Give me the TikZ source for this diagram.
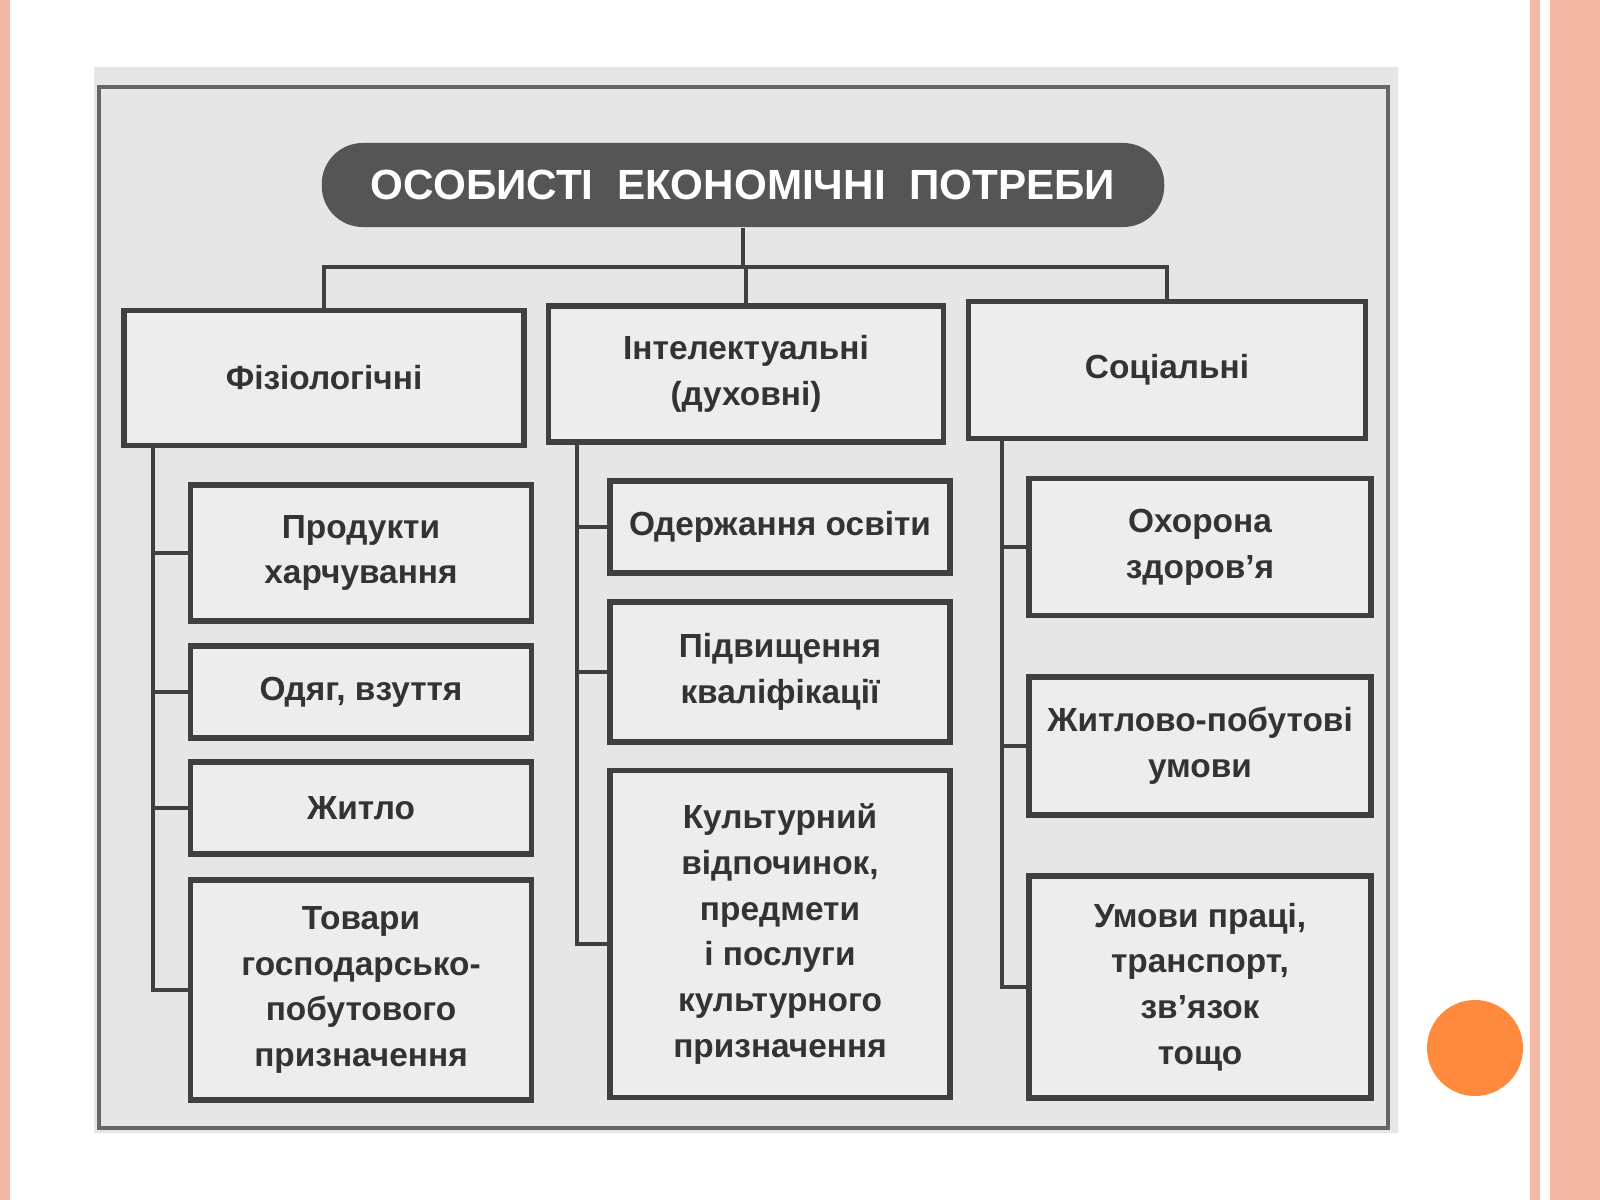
\documentclass[tikz,border=0pt]{standalone}
\usepackage{fontspec}
\setmainfont{Liberation Sans}
\definecolor{slidepink}{HTML}{F4B9A4}
\definecolor{photogray}{HTML}{E6E6E6}
\definecolor{pillgray}{HTML}{555555}
\definecolor{dotorange}{HTML}{FF8A3D}
\tikzset{
  cell/.style={rectangle, draw=black!75, line width=1.6pt, fill=photogray!70!white,
    text=black!80, align=center, font=\bfseries\fontsize{9.5pt}{13pt}\selectfont,
    inner sep=0pt},
  link/.style={draw=black!75, line width=1.4pt}
}
\begin{document}
\begin{tikzpicture}[x=0.01cm, y=-0.01cm]
        % ---------------------------------------------------------------------------
        % Slide background
        % ---------------------------------------------------------------------------
        \useasboundingbox (0,0) rectangle (1600,1200);
        \fill[white] (0,0) rectangle (1600,1200);
        \fill[slidepink] (0,0) rectangle (10,1200);
        \fill[slidepink] (1530,0) rectangle (1540,1200);
        \fill[slidepink] (1550,0) rectangle (1600,1200);
        \fill[photogray] (94,67) rectangle (1398,1133);
        \draw[black!60, line width=1.4pt] (99,87) rectangle (1388,1128);
        \fill[dotorange] (1475,1048) circle (48);

        % ---------------------------------------------------------------------------
        % Draw nodes
        % ---------------------------------------------------------------------------
        \node[  rectangle, rounded corners=0.41cm,
                fill = pillgray,
                text = white,
                font = \bfseries\fontsize{12pt}{15pt}\selectfont,
                minimum width = 8.42cm,
                minimum height = 0.84cm]  (Title) at (743,185) {ОСОБИСТІ \ ЕКОНОМІЧНІ \ ПОТРЕБИ};

        \node[cell, minimum width=4.0cm, minimum height=1.35cm] (Phys)   at (324,378) {Фізіологічні};
        \node[cell, minimum width=3.95cm, minimum height=1.36cm] (Intel) at (746,374) {Інтелектуальні\\(духовні)};
        \node[cell, minimum width=3.97cm, minimum height=1.37cm] (Soc)   at (1167,370) {Соціальні};

        \node[cell, minimum width=3.41cm, minimum height=1.36cm] (Food)    at (361,553)  {Продукти\\харчування};
        \node[cell, minimum width=3.41cm, minimum height=0.92cm] (Clothes) at (361,692)  {Одяг, взуття};
        \node[cell, minimum width=3.41cm, minimum height=0.92cm] (Home)    at (361,808)  {Житло};
        \node[cell, minimum width=3.41cm, minimum height=2.2cm]  (Goods)   at (361,990)  {Товари\\господарсько-\\побутового\\призначення};

        \node[cell, minimum width=3.40cm, minimum height=0.92cm] (Edu)     at (780,527)  {Одержання освіти};
        \node[cell, minimum width=3.40cm, minimum height=1.40cm] (Qual)    at (780,672)  {Підвищення\\кваліфікації};
        \node[cell, minimum width=3.40cm, minimum height=3.27cm] (Culture) at (780,934)  {Культурний\\відпочинок,\\предмети\\і послуги\\культурного\\призначення};

        \node[cell, minimum width=3.42cm, minimum height=1.37cm] (Health)  at (1200,547) {Охорона\\здоров'я};
        \node[cell, minimum width=3.42cm, minimum height=1.38cm] (Living)  at (1200,746) {Житлово-побутові\\умови};
        \node[cell, minimum width=3.42cm, minimum height=2.22cm] (Work)    at (1200,987) {Умови праці,\\транспорт,\\зв'язок\\тощо};

        % ---------------------------------------------------------------------------
        % Draw lines
        % ---------------------------------------------------------------------------
        \coordinate (Fork) at (743,267);
        \draw[link] (Title.south) -- (Fork);
        \draw[link] (Phys.north) |- (Fork) -| (Soc.north);
        \draw[link] (Intel.north) -- (Intel.north |- Fork);

        \coordinate (SpineP) at (153,0);
        \coordinate (SpineI) at (577,0);
        \coordinate (SpineS) at (1002,0);
        \draw[link] (Phys.south -| SpineP)  |- (Goods.west);
        \draw[link] (Food.west)    -- (Food.west -| SpineP);
        \draw[link] (Clothes.west) -- (Clothes.west -| SpineP);
        \draw[link] (Home.west)    -- (Home.west -| SpineP);

        \draw[link] (Intel.south -| SpineI) |- ([yshift=-0.1cm]Culture.west);
        \draw[link] (Edu.west)     -- (Edu.west -| SpineI);
        \draw[link] (Qual.west)    -- (Qual.west -| SpineI);

        \draw[link] (Soc.south -| SpineS)   |- (Work.west);
        \draw[link] (Health.west)  -- (Health.west -| SpineS);
        \draw[link] (Living.west)  -- (Living.west -| SpineS);
\end{tikzpicture}
\end{document}
